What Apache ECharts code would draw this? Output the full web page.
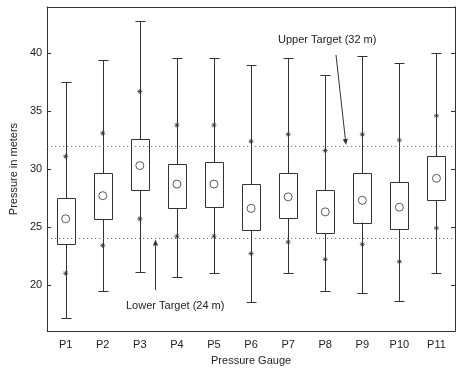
<!DOCTYPE html>
<html>
<head>
<meta charset="utf-8">
<script src="https://cdn.jsdelivr.net/npm/echarts@6/dist/echarts.min.js"></script>
<style>
html, body { margin: 0; padding: 0; background: #fff; }
#chart { width: 456px; height: 371px; }
</style>
</head>
<body>
<div id="chart"></div>
<script>
// gauges
var categories = ['P1', 'P2', 'P3', 'P4', 'P5', 'P6', 'P7', 'P8', 'P9', 'P10', 'P11'];
// whisker ends, box edges, mean, star markers (m)
var whiskerMax = [37.5, 39.4, 42.8, 39.6, 39.6, 39.0, 39.6, 38.1, 39.8, 39.2, 40.0];
var upperStar  = [31.1, 33.1, 36.7, 33.8, 33.8, 32.4, 33.0, 31.6, 33.0, 32.5, 34.6];
var boxTop     = [27.5, 29.7, 32.6, 30.4, 30.6, 28.7, 29.7, 28.2, 29.7, 28.9, 31.1];
var meanVal    = [25.7, 27.7, 30.3, 28.7, 28.7, 26.6, 27.6, 26.3, 27.3, 26.7, 29.2];
var boxBottom  = [23.5, 25.7, 28.2, 26.6, 26.7, 24.7, 25.8, 24.5, 25.4, 24.8, 27.3];
var lowerStar  = [21.0, 23.4, 25.7, 24.2, 24.2, 22.7, 23.7, 22.2, 23.5, 22.0, 24.9];
var whiskerMin = [17.1, 19.5, 21.1, 20.7, 21.0, 18.5, 21.0, 19.5, 19.3, 18.6, 21.0];
var yTicks = [20, 25, 30, 35, 40];
var upperTarget = 32;
var lowerTarget = 24;

var ink = '#333';
var font = 'Liberation Sans, Arial, sans-serif';

var boxData = categories.map(function (c, i) {
    return [i, whiskerMin[i], boxBottom[i], boxTop[i], whiskerMax[i]];
});

function px(v) { return Math.round(v) + 0.5; }

//盒须图
function renderBox(params, api) {
    var x = api.value(0);
    var pMin = api.coord([x, api.value(1)]);
    var pLo = api.coord([x, api.value(2)]);
    var pHi = api.coord([x, api.value(3)]);
    var pMax = api.coord([x, api.value(4)]);
    var half = Math.round(api.size([1, 0])[0] * 0.25);
    var cap = 5;
    var cx = px(pMin[0]);
    var st = { stroke: ink, lineWidth: 1, fill: null };
    return {
        type: 'group',
        children: [
            { type: 'line', shape: { x1: cx, y1: px(pMax[1]), x2: cx, y2: px(pHi[1]) }, style: st },
            { type: 'line', shape: { x1: cx, y1: px(pLo[1]), x2: cx, y2: px(pMin[1]) }, style: st },
            { type: 'line', shape: { x1: cx - cap, y1: px(pMax[1]), x2: cx + cap, y2: px(pMax[1]) }, style: st },
            { type: 'line', shape: { x1: cx - cap, y1: px(pMin[1]), x2: cx + cap, y2: px(pMin[1]) }, style: st },
            { type: 'rect', shape: { x: cx - half, y: px(pHi[1]), width: half * 2, height: Math.round(pLo[1] - pHi[1]) }, style: { stroke: ink, lineWidth: 1, fill: 'none' } }
        ]
    };
}

var starPath = 'path://M0,5 L10,5 M5,0 L5,10 M1.5,1.5 L8.5,8.5 M8.5,1.5 L1.5,8.5';

var option = {
    animation: false,
    backgroundColor: '#fff',
    textStyle: { fontFamily: font },
    grid: { left: 46, right: 1, top: 7, bottom: 33 },
    xAxis: [{
        type: 'category',
        data: categories,
        position: 'bottom',
        name: 'Pressure Gauge',
        nameLocation: 'middle',
        nameGap: 21,
        nameTextStyle: { color: '#222', fontSize: 11, fontFamily: font },
        axisLine: { lineStyle: { color: ink, width: 1 } },
        axisTick: { inside: true, length: 4, alignWithLabel: true, lineStyle: { color: ink } },
        axisLabel: { color: '#222', fontSize: 11, margin: 8, fontFamily: font },
        splitLine: { show: false }
    }, {
        type: 'category',
        data: categories,
        position: 'top',
        axisLine: { lineStyle: { color: ink, width: 1 } },
        axisTick: { inside: true, length: 4, alignWithLabel: true, lineStyle: { color: ink } },
        axisLabel: { show: false },
        splitLine: { show: false }
    }],
    yAxis: [{
        type: 'value',
        min: 16,
        max: 44,
        position: 'left',
        name: 'Pressure in meters',
        nameLocation: 'middle',
        nameGap: 22,
        nameTextStyle: { color: '#222', fontSize: 11, fontFamily: font },
        axisLine: { show: true, lineStyle: { color: ink, width: 1 } },
        axisTick: { show: true, inside: true, length: 4, customValues: yTicks, lineStyle: { color: ink } },
        axisLabel: { color: '#222', fontSize: 11, margin: 5, customValues: yTicks, fontFamily: font },
        splitLine: { show: false }
    }, {
        type: 'value',
        min: 16,
        max: 44,
        position: 'right',
        axisLine: { show: true, lineStyle: { color: ink, width: 1 } },
        axisTick: { show: true, inside: true, length: 4, customValues: yTicks, lineStyle: { color: ink } },
        axisLabel: { show: false },
        splitLine: { show: false }
    }],
    series: [{
        name: 'box',
        type: 'custom',
        renderItem: renderBox,
        data: boxData,
        encode: { x: 0, y: [1, 2, 3, 4] },
        z: 2
    }, {
        name: 'mean',
        type: 'scatter',
        symbol: 'circle',
        symbolSize: 8,
        itemStyle: { color: '#fff', borderColor: ink, borderWidth: 1 },
        data: meanVal,
        z: 3,
        markLine: {
            silent: true,
            symbol: 'none',
            label: { show: false },
            lineStyle: { color: '#666', type: [1, 3], width: 1 },
            data: [{ yAxis: upperTarget }, { yAxis: lowerTarget }]
        }
    }, {
        name: 'upper',
        type: 'scatter',
        symbol: starPath,
        symbolSize: 5,
        itemStyle: { color: 'none', borderColor: ink, borderWidth: 1 },
        data: upperStar,
        z: 3
    }, {
        name: 'lower',
        type: 'scatter',
        symbol: starPath,
        symbolSize: 5,
        itemStyle: { color: 'none', borderColor: ink, borderWidth: 1 },
        data: lowerStar,
        z: 3
    }]
};

var chart = echarts.init(document.getElementById('chart'));
chart.setOption(option);

// 注释文字与箭头
var yUp = chart.convertToPixel({ yAxisIndex: 0 }, upperTarget);
var yLow = chart.convertToPixel({ yAxisIndex: 0 }, lowerTarget);
function arrow(x1, y1, x2, y2) {
    var a = Math.atan2(y2 - y1, x2 - x1), L = 6, W = 2.5;
    var bx = x2 - L * Math.cos(a), by = y2 - L * Math.sin(a);
    return [
        { type: 'line', shape: { x1: x1, y1: y1, x2: bx, y2: by }, style: { stroke: ink, lineWidth: 1 } },
        { type: 'polygon', shape: { points: [[x2, y2], [bx + W * Math.sin(a), by - W * Math.cos(a)], [bx - W * Math.sin(a), by + W * Math.cos(a)]] }, style: { fill: ink } }
    ];
}
chart.setOption({
    graphic: [
        { type: 'text', left: 278, top: 34, style: { text: 'Upper Target (32 m)', fill: '#222', font: '11px ' + font } },
        { type: 'text', left: 126, top: 300, style: { text: 'Lower Target (24 m)', fill: '#222', font: '11px ' + font } }
    ].concat(arrow(336, 55, 346, yUp - 1)).concat(arrow(155.5, 290, 155.5, yLow + 1))
});
</script>
</body>
</html>
